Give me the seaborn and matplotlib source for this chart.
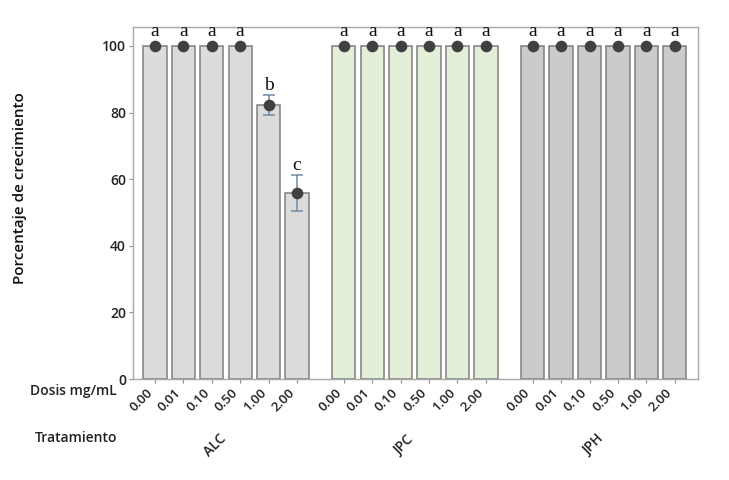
import numpy as np
import pandas as pd
import matplotlib
matplotlib.use("Agg")
import matplotlib.pyplot as plt
import matplotlib.transforms as mtransforms
import seaborn as sns

treatments = ["ALC", "JPC", "JPH"]
doses = ["0.00", "0.01", "0.10", "0.50", "1.00", "2.00"]
alc_mean = [100, 100, 100, 100, 82.2, 55.9]
jpc_mean = [100, 100, 100, 100, 100, 100]
jph_mean = [100, 100, 100, 100, 100, 100]
alc_err = [0, 0, 0, 0, 3.0, 5.4]
jpc_err = [0, 0, 0, 0, 0, 0]
jph_err = [0, 0, 0, 0, 0, 0]
alc_letters = ["a", "a", "a", "a", "b", "c"]
jpc_letters = ["a", "a", "a", "a", "a", "a"]
jph_letters = ["a", "a", "a", "a", "a", "a"]
yticks = [0, 20, 40, 60, 80, 100]

group_gap = 0.65
rows = []
for g, (t, m, e, l) in enumerate(zip(treatments,
                                     [alc_mean, jpc_mean, jph_mean],
                                     [alc_err, jpc_err, jph_err],
                                     [alc_letters, jpc_letters, jph_letters])):
    for i, d in enumerate(doses):
        rows.append(dict(Tratamiento=t, Dosis=d, pos=g * (len(doses) + group_gap) + i,
                         mean=m[i], err=e[i], letter=l[i]))
df = pd.DataFrame(rows)

sns.set_style("white")
plt.rcParams["font.family"] = ["Open Sans", "DejaVu Sans"]

fig = plt.figure(figsize=(7.29, 4.8), dpi=100)
ax = fig.add_axes([0.1824, 0.2104, 0.9575 - 0.1824, 0.94375 - 0.2104])

palette = {"ALC": "#dcdcdc", "JPC": "#e3efd8", "JPH": "#cbcbcb"}
sns.barplot(data=df, x="pos", y="mean", hue="Tratamiento", palette=palette,
            native_scale=True, dodge=False, errorbar=None, width=0.82,
            edgecolor="#7f7f7f", linewidth=1.1, legend=False, ax=ax, saturation=1)

# error bars
sub = df[df["err"] > 0]
ax.errorbar(sub["pos"], sub["mean"], yerr=sub["err"], fmt="none",
            ecolor="#6f8aa6", elinewidth=1.1, capsize=4, capthick=1.1, zorder=3)
sns.scatterplot(data=df, x="pos", y="mean", color="#404040", s=70,
                edgecolor="#404040", linewidth=0, zorder=4, ax=ax, legend=False)

for _, r in df.iterrows():
    ytop = max(r["mean"] + r["err"], r["mean"] + 1.5) + 0.3
    ax.text(r["pos"], ytop, r["letter"], ha="center", va="bottom",
            fontsize=14, family=["Liberation Serif", "DejaVu Serif"], color="#111111")

ax.set_xlim(-0.775, df["pos"].max() + 0.82)
ax.set_ylim(0, 105.7)
ax.set_yticks(yticks)
ax.set_yticklabels([str(v) for v in yticks], fontsize=10, fontweight="semibold", color="#222222")
ax.set_xticks(df["pos"])
ax.set_xticklabels(df["Dosis"], rotation=45, ha="right", va="top",
                   fontsize=9.5, fontweight="semibold", color="#222222")
offset = mtransforms.ScaledTranslation(-7 / 100, 0, fig.dpi_scale_trans)
for lbl in ax.get_xticklabels():
    lbl.set_transform(lbl.get_transform() + offset)

ax.tick_params(axis="y", direction="out", length=3, color="#909090", pad=2, left=True)
ax.tick_params(axis="x", direction="out", length=3, color="#909090", pad=2, bottom=True)
for s in ax.spines.values():
    s.set_color("#a8a8a8")
    s.set_linewidth(1.0)

ax.set_xlabel("")
ax.set_ylabel("")
fig.text(20 / 729, 1 - 188 / 480, "Porcentaje de crecimiento", rotation=90,
         ha="center", va="center", fontsize=11, fontweight="semibold", color="#111111")

# row labels
fig.text(117 / 729, 1 - 391 / 480, "Dosis mg/mL", ha="right", va="center",
         fontsize=10, fontweight="semibold", color="#222222")
fig.text(117 / 729, 1 - 438 / 480, "Tratamiento", ha="right", va="center",
         fontsize=10, fontweight="semibold", color="#222222")

# group labels
trans = mtransforms.blended_transform_factory(ax.transData, fig.transFigure)
for t in treatments:
    p = df.loc[df["Tratamiento"] == t, "pos"].mean()
    ax.text(p - 0.38, 1 - 445 / 480, t, transform=trans, rotation=45,
            ha="center", va="center", fontsize=10, fontweight="semibold", color="#222222")

fig.savefig("out.png", dpi=100, facecolor="white")
